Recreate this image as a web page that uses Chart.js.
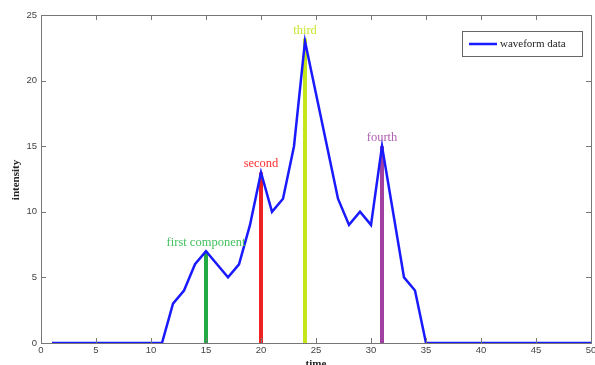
<!DOCTYPE html>
<html>
<head>
<meta charset="utf-8">
<script src="https://cdn.jsdelivr.net/npm/chart.js@4.4.1/dist/chart.umd.min.js"></script>
<style>
  html, body { margin: 0; padding: 0; background: #fff; }
  #wrap { width: 595px; height: 365px; }
</style>
</head>
<body>
<div id="wrap"><canvas id="chart" width="595" height="365"></canvas></div>
<script>
// waveform samples, time 1..50
const times = [1,2,3,4,5,6,7,8,9,10,11,12,13,14,15,16,17,18,19,20,21,22,23,24,25,
  26,27,28,29,30,31,32,33,34,35,36,37,38,39,40,41,42,43,44,45,46,47,48,49,50];
const intensity = [0,0,0,0,0,0,0,0,0,0,0,3,4,6,7,6,5,6,9,13,10,11,15,23,19,
  15,11,9,10,9,15,10,5,4,0,0,0,0,0,0,0,0,0,0,0,0,0,0,0,0];

// component markers
const compNames = ['first component', 'second', 'third', 'fourth'];
const compTimes = [15, 20, 24, 31];
const compHeights = [7, 13, 23.2, 15];
const compColors = ['#22aa44', '#ee2222', '#c5e61a', '#a040a0'];
const compTextColors = ['#44c060', '#ff3030', '#c8e632', '#b060b0'];

const xTicks = [0, 5, 10, 15, 20, 25, 30, 35, 40, 45, 50];
const yTicks = [0, 5, 10, 15, 20, 25];

const componentBars = compTimes.map((t, i) => ({
  label: compNames[i],
  data: [{x: t, y: 0}, {x: t, y: compHeights[i]}],
  borderColor: compColors[i],
  borderWidth: 4,
  pointRadius: 0,
  order: 1
}));

// box, inside ticks, component labels, axis titles, legend
const decor = {
  id: 'decor',
  afterDatasetsDraw(chart) {
    const ctx = chart.ctx;
    const a = chart.chartArea;
    const xs = chart.scales.x, ys = chart.scales.y;
    ctx.save();
    ctx.strokeStyle = '#777';
    ctx.lineWidth = 1;
    ctx.beginPath();
    xTicks.forEach(v => {
      const px = Math.round(xs.getPixelForValue(v)) + 0.5;
      ctx.moveTo(px, a.bottom); ctx.lineTo(px, a.bottom - 5);
      ctx.moveTo(px, a.top); ctx.lineTo(px, a.top + 5);
    });
    yTicks.forEach(v => {
      const py = Math.round(ys.getPixelForValue(v)) + 0.5;
      ctx.moveTo(a.left, py); ctx.lineTo(a.left + 5, py);
      ctx.moveTo(a.right, py); ctx.lineTo(a.right - 5, py);
    });
    ctx.stroke();
    ctx.strokeRect(Math.round(a.left) + 0.5, Math.round(a.top) + 0.5,
      Math.round(a.right - a.left), Math.round(a.bottom - a.top));

    // component labels
    ctx.font = '12.5px "Liberation Serif"';
    ctx.textAlign = 'center';
    ctx.textBaseline = 'bottom';
    compTimes.forEach((t, i) => {
      ctx.fillStyle = compTextColors[i];
      ctx.fillText(compNames[i], xs.getPixelForValue(t), ys.getPixelForValue(compHeights[i]) - 2);
    });

    // axis titles
    ctx.fillStyle = '#222';
    ctx.font = 'bold 11px "Liberation Serif"';
    ctx.textBaseline = 'top';
    ctx.fillText('time', (a.left + a.right) / 2, 359);
    ctx.save();
    ctx.translate(16, 180);
    ctx.rotate(-Math.PI / 2);
    ctx.textBaseline = 'middle';
    ctx.fillText('intensity', 0, 0);
    ctx.restore();

    // legend
    ctx.fillStyle = '#fff';
    ctx.fillRect(462.5, 31.5, 120, 25);
    ctx.strokeStyle = '#666';
    ctx.strokeRect(462.5, 31.5, 120, 25);
    ctx.strokeStyle = '#1a1aff';
    ctx.lineWidth = 2.5;
    ctx.beginPath();
    ctx.moveTo(469, 44); ctx.lineTo(497, 44);
    ctx.stroke();
    ctx.fillStyle = '#222';
    ctx.font = '11px "Liberation Serif"';
    ctx.textAlign = 'left';
    ctx.textBaseline = 'middle';
    ctx.fillText('waveform data', 500, 44);
    ctx.restore();
  }
};

new Chart(document.getElementById('chart'), {
  type: 'line',
  data: {
    datasets: [
      ...componentBars,
      {
        label: 'waveform data',
        data: times.map((t, i) => ({x: t, y: intensity[i]})),
        borderColor: '#1a1aff',
        borderWidth: 2.5,
        pointRadius: 0,
        tension: 0,
        order: 0
      }
    ]
  },
  plugins: [decor],
  options: {
    responsive: false,
    animation: false,
    layout: { padding: { left: 0, right: 4, top: 15, bottom: 0 } },
    plugins: { legend: { display: false }, tooltip: { enabled: false } },
    scales: {
      x: {
        type: 'linear',
        min: 0, max: 50,
        grid: { display: false, drawTicks: false, tickLength: 0 },
        border: { display: false },
        ticks: {
          stepSize: 5, padding: 2, maxRotation: 0,
          color: '#444', font: { family: 'Liberation Sans', size: 9.5 }
        },
        afterFit(s) { s.height = 22; s.paddingLeft = 0; s.paddingRight = 0; }
      },
      y: {
        min: 0, max: 25,
        grid: { display: false, drawTicks: false, tickLength: 0 },
        border: { display: false },
        ticks: {
          stepSize: 5, padding: 4,
          color: '#444', font: { family: 'Liberation Sans', size: 9.5 }
        },
        afterFit(s) { s.width = 41; s.paddingTop = 0; s.paddingBottom = 0; }
      }
    }
  }
});
</script>
</body>
</html>
